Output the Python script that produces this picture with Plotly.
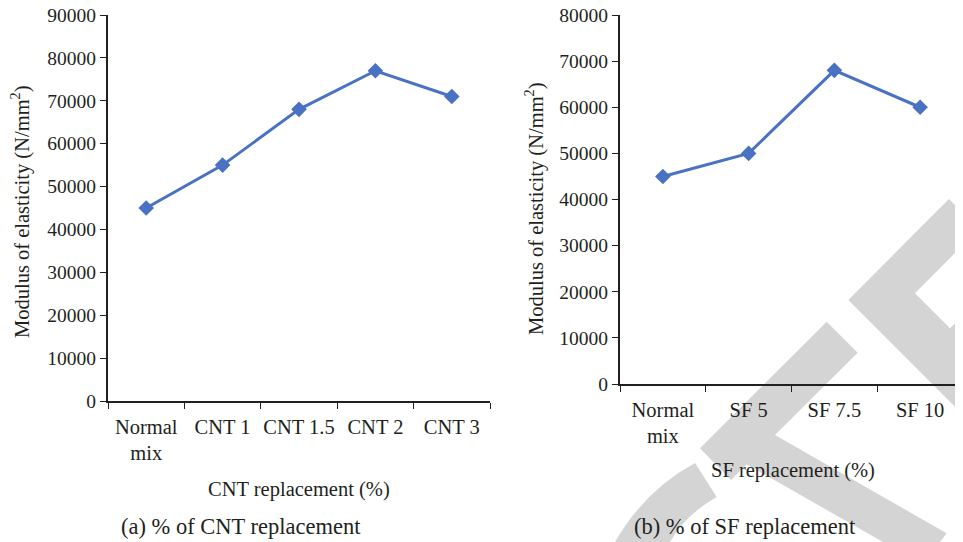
"""Modulus of elasticity vs. CNT / SF replacement, two side-by-side line panels."""

import plotly.graph_objects as go

W, H = 963, 542
OFF = 8  # page body margin: figure starts 8px in from the window corner
FW, FH = W - OFF, H - OFF

CNT_MIXES = ["Normal<br>mix", "CNT 1", "CNT 1.5", "CNT 2", "CNT 3"]
CNT_MODULUS = [45000, 55000, 68000, 77000, 71000]

SF_MIXES = ["Normal<br>mix", "SF 5", "SF 7.5", "SF 10"]
SF_MODULUS = [45000, 50000, 68000, 60000]

BLUE = "#4a72c2"
INK = "#231f20"
FONT = "Liberation Serif"
Y_TITLE = "Modulus of elasticity (N/mm<sup>2</sup>)"

# light-grey watermark strokes behind the right panel (window-pixel outlines)
WM_RIGHT = [(848.3, 300), (949, 199), (963, 213), (963, 245), (915, 293.3),
            (950, 328.3), (963, 315.3), (963, 414.7)]
WM_MID = [(826.7, 321.7), (857.7, 352.7), (775, 435), (946.7, 533.3), (940, 542),
          (883, 542), (746.7, 464.3), (731, 480), (700, 448.3)]


def px(x, y):
    return (x - OFF) / FW, 1 - (y - OFF) / FH


def poly_path(points):
    pts = [px(x, y) for x, y in points]
    return "M " + " L ".join(f"{a:.4f},{b:.4f}" for a, b in pts) + " Z"


def arc_path():
    p = [px(*q) for q in [(615, 542), (645, 490), (695, 463), (716.7, 497), (685, 515), (670, 542)]]
    f = lambda q: f"{q[0]:.4f},{q[1]:.4f}"
    return f"M {f(p[0])} Q {f(p[1])} {f(p[2])} L {f(p[3])} Q {f(p[4])} {f(p[5])} Z"


fig = go.Figure()
fig.add_trace(go.Scatter(
    x=CNT_MIXES, y=CNT_MODULUS, mode="lines+markers", xaxis="x", yaxis="y",
    line=dict(color=BLUE, width=3), marker=dict(symbol="diamond", size=12, color=BLUE),
    showlegend=False,
))
fig.add_trace(go.Scatter(
    x=SF_MIXES, y=SF_MODULUS, mode="lines+markers", xaxis="x2", yaxis="y2",
    line=dict(color=BLUE, width=3), marker=dict(symbol="diamond", size=12, color=BLUE),
    showlegend=False,
))

axis_common = dict(
    showline=True, linecolor=INK, linewidth=2, showgrid=False, zeroline=False,
    ticks="outside", ticklen=6, tickcolor=INK, tickwidth=1, automargin=False,
    tickangle=0, tickfont=dict(family=FONT, size=20.5, color=INK),
)
xcat = dict(type="category", tickson="boundaries", ticklabelstandoff=6)
ynum = dict(dtick=10000, tickformat="d", tickfont=dict(family=FONT, size=19.5, color=INK))
fig.update_layout(
    width=FW, height=FH, autosize=False,
    margin=dict(l=0, r=0, t=0, b=0, autoexpand=False),
    paper_bgcolor="white", plot_bgcolor="rgba(0,0,0,0)",
    xaxis=dict(axis_common, **xcat, domain=[px(108, 0)[0], px(490, 0)[0]], anchor="y",
               range=[-0.5, len(CNT_MIXES) - 0.5]),
    yaxis=dict(axis_common, **ynum, domain=[px(0, 401)[1], px(0, 15)[1]], anchor="x",
               range=[0, 90000]),
    xaxis2=dict(axis_common, **xcat, domain=[px(620, 0)[0], 1.0], anchor="y2",
                range=[-0.5, len(SF_MIXES) - 0.5]),
    yaxis2=dict(axis_common, **ynum, domain=[px(0, 384)[1], px(0, 15)[1]], anchor="x2",
                range=[0, 80000]),
    shapes=[
        dict(type="path", xref="paper", yref="paper", path=poly_path(pts),
             fillcolor="#d4d4d4", line=dict(width=0), layer="below")
        for pts in (WM_RIGHT, WM_MID)
    ] + [
        dict(type="path", xref="paper", yref="paper", path=arc_path(),
             fillcolor="#d4d4d4", line=dict(width=0), layer="below"),
    ],
)

labels = [
    ("CNT replacement (%)", 299, 489, 0, 20.5),
    ("SF replacement (%)", 793, 470, 0, 20.5),
    ("(a) % of CNT replacement", 241, 526, 0, 22.5),
    ("(b) % of SF replacement", 745, 526, 0, 22.5),
    (Y_TITLE, 20, 212, -90, 20.5),
    (Y_TITLE, 535, 209, -90, 20.5),
]
for text, lx, ly, rot, size in labels:
    ax, ay = px(lx, ly)
    fig.add_annotation(
        text=text, x=ax, y=ay, xref="paper", yref="paper", showarrow=False,
        xanchor="center", yanchor="middle", textangle=rot,
        font=dict(family=FONT, size=size, color=INK),
    )

fig.write_html("out.html")
